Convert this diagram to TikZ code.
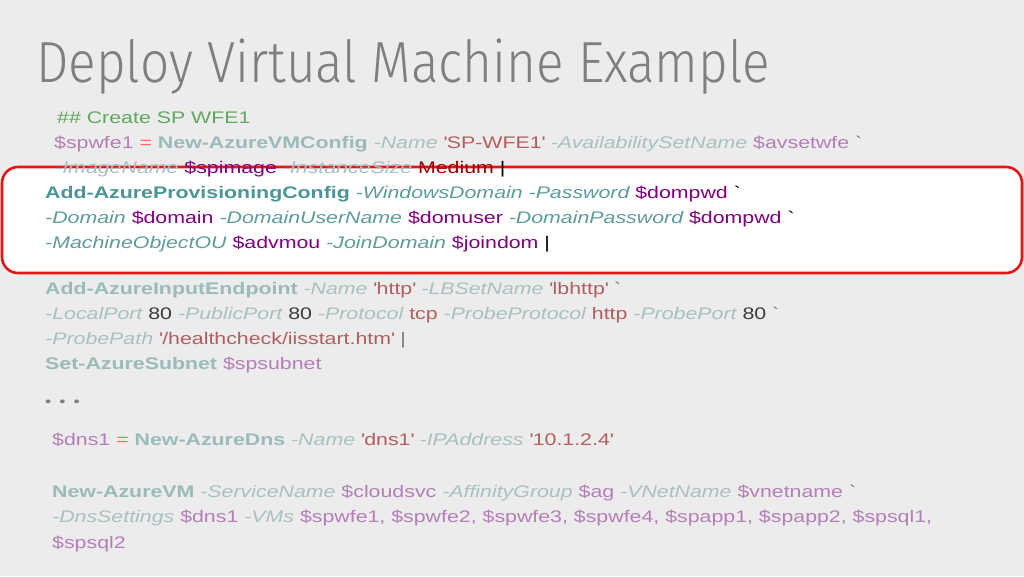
\documentclass[tikz,border=0pt]{standalone}
\usepackage{fontspec}
\setmainfont[FakeStretch=1.27]{Liberation Sans}
\newfontfamily\titlefont[FakeStretch=0.884]{Fira Sans Light}
\usetikzlibrary{positioning}

\definecolor{slidebg}{HTML}{ECECEC}
\definecolor{titlegray}{HTML}{7F7F7F}
\definecolor{boxred}{HTML}{E61414}
\definecolor{comment}{HTML}{5FA85F}
% faded colours (outside the box)
\definecolor{cmdF}{HTML}{9BBABA}
\definecolor{prmF}{HTML}{A9C0C0}
\definecolor{vrbF}{HTML}{B47EB6}
\definecolor{litF}{HTML}{B25E5E}
\definecolor{nmbF}{HTML}{3C3C3C}
\definecolor{tckF}{HTML}{7A7A7A}
% bright colours (inside the box)
\definecolor{cmdB}{HTML}{4A9696}
\definecolor{prmB}{HTML}{5E9C9C}
\definecolor{vrbB}{HTML}{800080}
\definecolor{litB}{HTML}{A00000}
\definecolor{nmbB}{HTML}{000000}
\definecolor{tckB}{HTML}{000000}

\def\hl{F}
\newcommand\cmdl[1]{\textcolor{cmd\hl}{\bfseries #1}}
\newcommand\prm[1]{\textcolor{prm\hl}{\itshape #1}}
\newcommand\vrb[1]{\textcolor{vrb\hl}{#1}}
\newcommand\lit[1]{\textcolor{lit\hl}{#1}}
\newcommand\nmb[1]{\textcolor{nmb\hl}{#1}}
\newcommand\tck{\textcolor{tck\hl}{\textasciigrave}}
\newcommand\q{\textquotesingle}

\tikzset{
  code/.style={anchor=base west, inner sep=0pt, font=\fontsize{16.8}{25}\selectfont},
  inbox/.style={code, execute at begin node=\def\hl{B}},
}

\begin{document}
\begin{tikzpicture}[x=1pt,y=-1pt]
\useasboundingbox (0,0) rectangle (1024,576);
\fill[slidebg] (0,0) rectangle (1024,576);
\node[anchor=base west, inner sep=0pt, font=\titlefont\fontsize{58}{60}\selectfont, text=titlegray] (title) at (36,82) {Deploy Virtual Machine Example};

% highlight box
\draw[boxred, line width=2.6pt, fill=white, rounded corners=16pt] (2,167) rectangle (1022,273);

\node[code, text=comment] (cmt) at (57,123) {\#\# Create SP WFE1};
\node[code] (wfe) at (54,148) {\vrb{\$spwfe1} \textcolor{red!55!slidebg}{=} \cmdl{New-AzureVMConfig} \prm{-Name} \lit{\q SP-WFE1\q} \prm{-AvailabilitySetName} \vrb{\$avsetwfe} \tck};
\node[code] (img) at (55,173) {\prm{-ImageName} \textcolor{vrbB}{\$spimage} \prm{-InstanceSize} \textcolor{litB}{Medium} |};

\node[inbox] (prov) at (45,198.5) {\cmdl{Add-AzureProvisioningConfig} \prm{-WindowsDomain} \prm{-Password} \vrb{\$dompwd} \tck};
\node[inbox] (dom) at (45,223.5) {\prm{-Domain} \vrb{\$domain} \prm{-DomainUserName} \vrb{\$domuser} \prm{-DomainPassword} \vrb{\$dompwd} \tck};
\node[inbox] (join) at (45,248.5) {\prm{-MachineObjectOU} \vrb{\$advmou} \prm{-JoinDomain} \vrb{\$joindom} |};

\node[code] (ep) at (45,294) {\cmdl{Add-AzureInputEndpoint} \prm{-Name} \lit{\q http\q} \prm{-LBSetName} \lit{\q lbhttp\q} \tck};
\node[code] (port) at (45,319) {\prm{-LocalPort} \nmb{80} \prm{-PublicPort} \nmb{80} \prm{-Protocol} \lit{tcp} \prm{-ProbeProtocol} \lit{http} \prm{-ProbePort} \nmb{80} \tck};
\node[code] (probe) at (45,344) {\prm{-ProbePath} \lit{\q/healthcheck/iisstart.htm\q} \textcolor{tckF}{|}};
\node[code] (subnet) at (45,369) {\cmdl{Set-AzureSubnet} \vrb{\$spsubnet}};
\node[code, font=\fontsize{14}{16}\selectfont, text=titlegray] (dots) at (45,406) {\textbullet\hspace{8pt}\textbullet\hspace{8pt}\textbullet};

\node[code] (dns) at (52,445) {\vrb{\$dns1} \textcolor{red!55!slidebg}{=} \cmdl{New-AzureDns} \prm{-Name} \lit{\q dns1\q} \prm{-IPAddress} \lit{\q 10.1.2.4\q}};

\node[code] (vm) at (52,497) {\cmdl{New-AzureVM} \prm{-ServiceName} \vrb{\$cloudsvc} \prm{-AffinityGroup} \vrb{\$ag} \prm{-VNetName} \vrb{\$vnetname} \tck};
\node[code] (vms) at (52,522) {\prm{-DnsSettings} \vrb{\$dns1} \prm{-VMs} \vrb{\$spwfe1, \$spwfe2, \$spwfe3, \$spwfe4, \$spapp1, \$spapp2, \$spsql1,}};
\node[code] (sql) at (52,548) {\vrb{\$spsql2}};
\end{tikzpicture}
\end{document}
